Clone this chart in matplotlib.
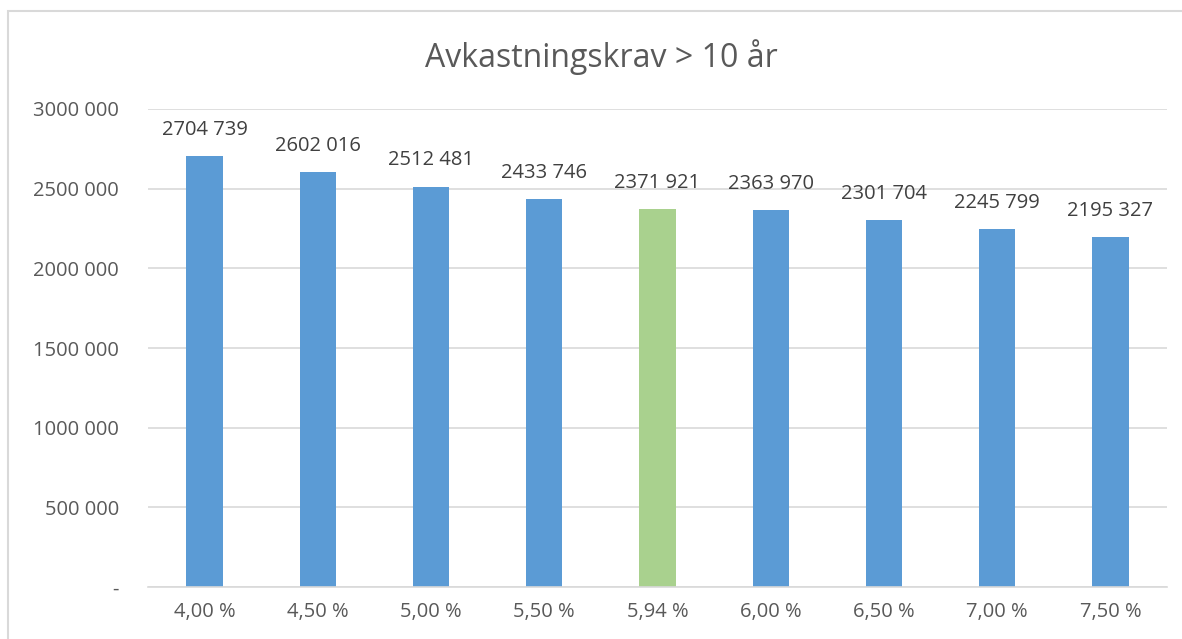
import matplotlib.pyplot as plt
from matplotlib.patches import Rectangle

plt.rcParams['font.family'] = ['Open Sans', 'DejaVu Sans']

# data
categories = ['4,00 %', '4,50 %', '5,00 %', '5,50 %', '5,94 %',
              '6,00 %', '6,50 %', '7,00 %', '7,50 %']
values = [2704739, 2602016, 2512481, 2433746, 2371921,
          2363970, 2301704, 2245799, 2195327]
highlight = '5,94 %'
yticks = [0, 500000, 1000000, 1500000, 2000000, 2500000, 3000000]


def fmt(v):
    if v == 0:
        return '-'
    return '%d %03d' % (v // 1000, v % 1000)


fig = plt.figure(figsize=(11.82, 6.39), dpi=100)
ax = fig.add_axes([148 / 1182, 1 - 587 / 639, (1167 - 148) / 1182, (587 - 109) / 639])

# chart border (cut off at the right and bottom)
fig.patches.append(Rectangle((8 / 1182, -0.05), 1.2, 1 - 11 / 639 + 0.05,
                             transform=fig.transFigure, fill=False,
                             edgecolor='#d9d9d9', linewidth=1.5))

pos = list(range(len(categories)))
colors = ['#a9d18e' if c == highlight else '#5b9bd5' for c in categories]
ax.bar(pos, values, width=0.32, color=colors, zorder=2)

for p, v in zip(pos, values):
    ax.annotate(fmt(v), (p, v), xytext=(0, 19), textcoords='offset points',
                ha='center', va='center', fontsize=14.5, color='#404040')

ax.set_xlim(-0.5, len(categories) - 0.5)
ax.set_ylim(0, 3000000)
ax.set_yticks(yticks)
ax.set_yticklabels([fmt(v) for v in yticks])
ax.set_xticks(pos)
ax.set_xticklabels(categories)
ax.tick_params(axis='both', length=0, labelsize=14.5, labelcolor='#595959')
ax.tick_params(axis='y', pad=21)
ax.tick_params(axis='x', pad=11)
ax.grid(axis='y', color='#d9d9d9', linewidth=1.2, zorder=0)
for s in ['top', 'right', 'left']:
    ax.spines[s].set_visible(False)
ax.spines['bottom'].set_color('#d9d9d9')
ax.spines['bottom'].set_linewidth(1.2)

fig.text(601 / 1182, 1 - 57 / 639, 'Avkastningskrav > 10 år', ha='center',
         va='center', fontsize=23, color='#595959')

plt.savefig('out.png', dpi=100)
